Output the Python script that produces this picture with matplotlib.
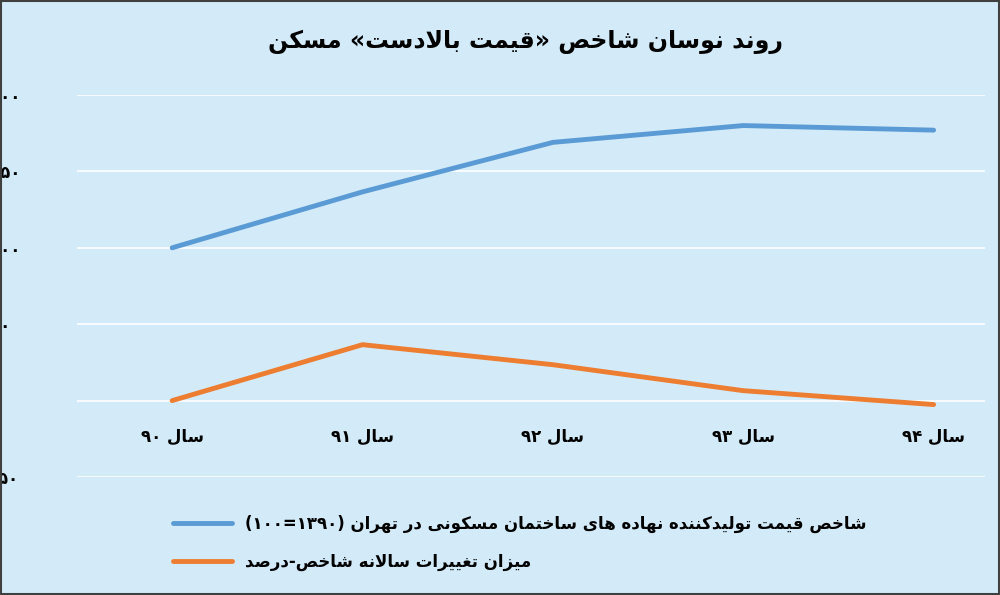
import re
import matplotlib
matplotlib.use("Agg")
import matplotlib.pyplot as plt

plt.rcParams["font.family"] = ["DejaVu Sans"]

categories = ["سال ۹۰", "سال ۹۱", "سال ۹۲", "سال ۹۳", "سال ۹۴"]
price_index = [100, 136.6, 169, 180, 177]
annual_change = [0, 36.6, 23.5, 6.5, -2.6]
y_ticks = [-50, 0, 50, 100, 150, 200]
y_tick_labels = ["-۵۰", "٠", "۵۰", "۱۰۰", "۱۵۰", "۲۰۰"]
title = "روند نوسان شاخص «قیمت بالادست» مسکن"
series_names = [
    "شاخص قیمت تولیدکننده نهاده های ساختمان مسکونی در تهران (۱۰۰=۱۳۹۰)",
    "میزان تغییرات سالانه شاخص-درصد",
]

# presentation forms: isolated, final, initial, medial (None = does not join forward)
FORMS = {
    "ا": (0xFE8D, 0xFE8E, None, None), "ب": (0xFE8F, 0xFE90, 0xFE91, 0xFE92),
    "ت": (0xFE95, 0xFE96, 0xFE97, 0xFE98), "خ": (0xFEA5, 0xFEA6, 0xFEA7, 0xFEA8),
    "د": (0xFEA9, 0xFEAA, None, None), "ر": (0xFEAD, 0xFEAE, None, None),
    "ز": (0xFEAF, 0xFEB0, None, None), "س": (0xFEB1, 0xFEB2, 0xFEB3, 0xFEB4),
    "ش": (0xFEB5, 0xFEB6, 0xFEB7, 0xFEB8), "ص": (0xFEB9, 0xFEBA, 0xFEBB, 0xFEBC),
    "غ": (0xFECD, 0xFECE, 0xFECF, 0xFED0), "ق": (0xFED5, 0xFED6, 0xFED7, 0xFED8),
    "ک": (0xFB8E, 0xFB8F, 0xFB90, 0xFB91), "ل": (0xFEDD, 0xFEDE, 0xFEDF, 0xFEE0),
    "م": (0xFEE1, 0xFEE2, 0xFEE3, 0xFEE4), "ن": (0xFEE5, 0xFEE6, 0xFEE7, 0xFEE8),
    "ه": (0xFEE9, 0xFEEA, 0xFEEB, 0xFEEC), "و": (0xFEED, 0xFEEE, None, None),
    "ی": (0xFBFC, 0xFBFD, 0xFBFE, 0xFBFF),
}
MIRROR = {"(": ")", ")": "(", "«": "»", "»": "«"}


def shape(word):
    out = []
    i = 0
    while i < len(word):
        c = word[i]
        prev = word[i - 1] if i > 0 else None
        joins_prev = prev in FORMS and FORMS[prev][2] is not None
        if c == "ل" and i + 1 < len(word) and word[i + 1] == "ا":
            out.append(chr(0xFEFC if joins_prev else 0xFEFB))
            i += 2
            continue
        if c not in FORMS:
            out.append(c)
            i += 1
            continue
        nxt = word[i + 1] if i + 1 < len(word) else None
        joins_next = FORMS[c][2] is not None and nxt in FORMS
        iso, fin, ini, med = FORMS[c]
        if joins_prev and joins_next:
            f = med
        elif joins_prev:
            f = fin
        elif joins_next:
            f = ini
        else:
            f = iso
        out.append(chr(f))
        i += 1
    return "".join(out)


def visual(text):
    tokens = re.findall(r"[۰-۹0-9=]+|[^۰-۹0-9=]+", text)
    res = []
    for t in reversed(tokens):
        if re.match(r"[۰-۹0-9=]", t):
            res.append(t)
        else:
            s = shape(t)[::-1]
            res.append("".join(MIRROR.get(ch, ch) for ch in s))
    return "".join(res)


bg = "#d3ebf8"
fig = plt.figure(figsize=(10, 5.95), dpi=100, facecolor=bg)
fig.patches.append(plt.Rectangle((0.001, 0.001), 0.998, 0.998, transform=fig.transFigure,
                                 fill=False, edgecolor="#404040", linewidth=1.5))
ax = fig.add_axes([0.077, 1 - 477 / 595, 0.908, (477 - 95) / 595])
ax.set_facecolor(bg)
x = list(range(len(categories)))
l1, = ax.plot(x, price_index, color="#5b9bd5", linewidth=3.5, solid_capstyle="round")
l2, = ax.plot(x, annual_change, color="#ed7d31", linewidth=3.5, solid_capstyle="round")
ax.set_xlim(-0.5, 4.27)
ax.set_ylim(-50, 200)
ax.set_yticks(y_ticks)
ax.set_yticklabels(y_tick_labels, fontsize=12, fontweight="bold")
ax.set_xticks([])
ax.grid(axis="y", color="white", linewidth=1.2)
ax.set_axisbelow(True)
for s in ax.spines.values():
    s.set_visible(False)
ax.tick_params(axis="y", length=0, pad=62)
for lbl in ax.get_yticklabels():
    lbl.set_horizontalalignment("left")
for xi, c in zip(x, categories):
    ax.text(xi, -24, visual(c), ha="center", va="center", fontsize=12, fontweight="bold")

fig.text(0.525, 1 - 42 / 595, visual(title), ha="center", va="center",
         fontsize=17, fontweight="bold")
fig.legend([l1, l2], [visual(n) for n in series_names], loc="center",
           bbox_to_anchor=(0.52, 1 - 543 / 595), frameon=False, ncol=1,
           prop={"size": 12, "weight": "bold"}, handlelength=3.5, labelspacing=1.2,
           alignment="left")

fig.savefig("out.png", dpi=100, facecolor=bg)
